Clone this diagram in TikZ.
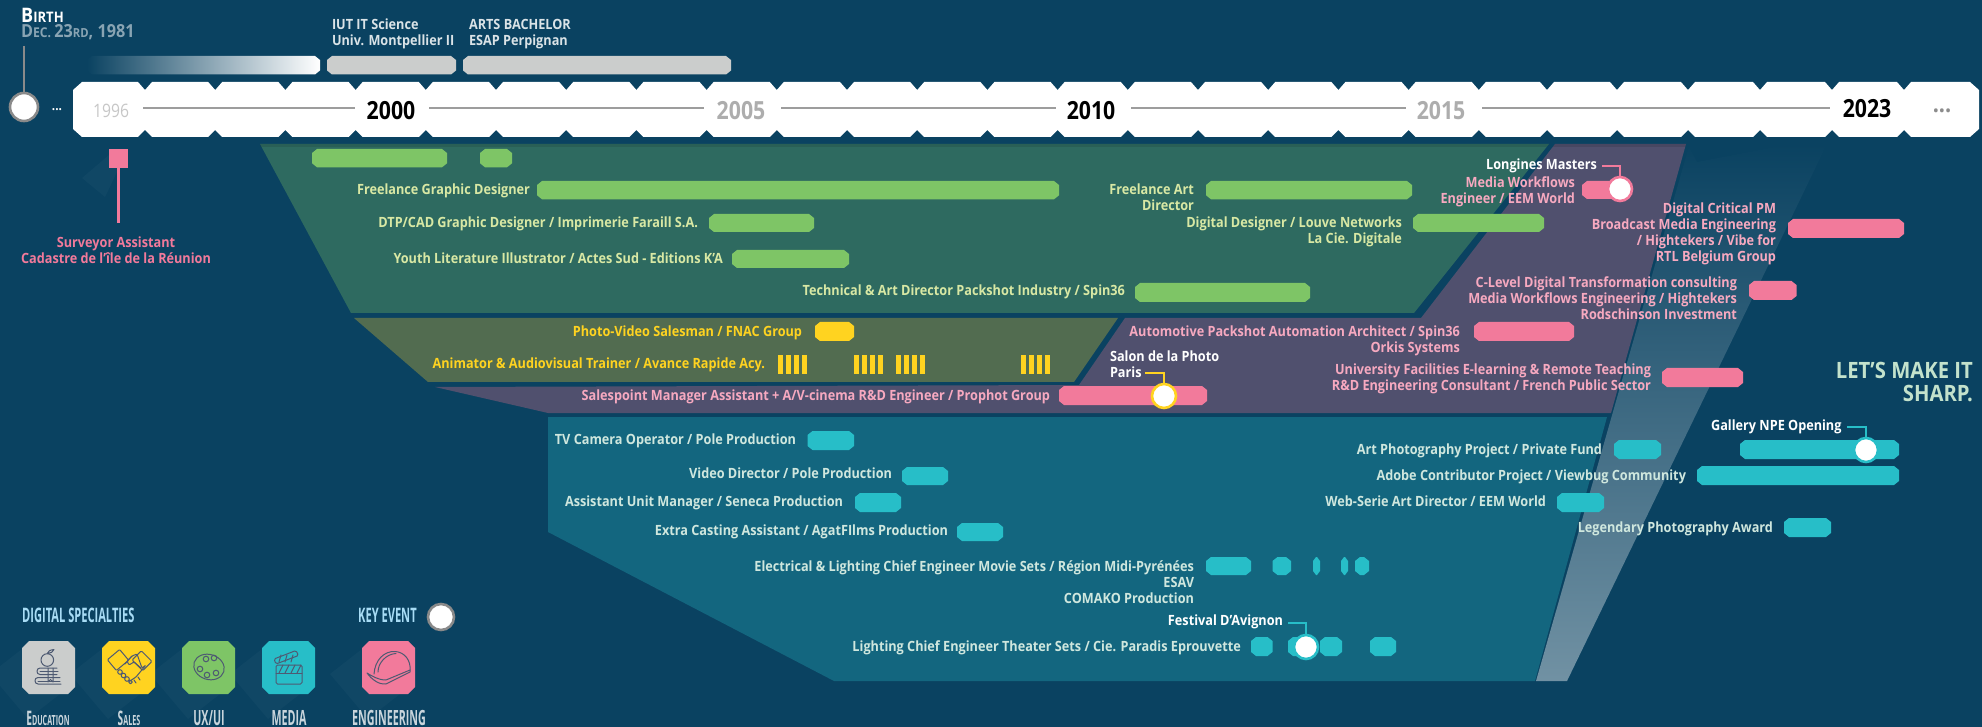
\documentclass[tikz,border=0pt]{standalone}
\usepackage{fontspec}
\setmainfont[FakeStretch=0.9]{Open Sans}
\newfontfamily\yearfont[FakeStretch=0.85]{Open Sans}
\newfontfamily\condfont[FakeStretch=0.555]{Open Sans}
\newfontfamily\condlab[FakeStretch=0.51]{Open Sans}
\definecolor{bgc}{HTML}{0A4261}
\definecolor{pgreen}{HTML}{2E6A60}
\definecolor{polive}{HTML}{526C50}
\definecolor{ppurple}{HTML}{50506E}
\definecolor{pteal}{HTML}{13667F}
\definecolor{cgreen}{HTML}{7EC566}
\definecolor{cyellow}{HTML}{FFD320}
\definecolor{cpink}{HTML}{F27A9B}
\definecolor{cteal}{HTML}{27BEC8}
\definecolor{cgray}{HTML}{CBCDCC}
\definecolor{tgreen}{HTML}{D8E8A4}
\definecolor{tpink}{HTML}{F7A9C0}
\definecolor{tteal}{HTML}{CFE7DE}
\definecolor{ring}{HTML}{8A8A8A}
\definecolor{iconc}{HTML}{4E5A72}
\definecolor{lineg}{HTML}{9D9D9D}
\definecolor{legc}{HTML}{A8DCF5}
\tikzset{
  gbar/.style={fill=cgreen},
  ybar/.style={fill=cyellow},
  pbar/.style={fill=cpink},
  tbar/.style={fill=cteal},
  dbar/.style={fill=cgray},
  fadebar/.style={left color=bgc,right color=white},
  lab/.style={inner sep=0pt,outer sep=0pt,align=right,anchor=north east,font=\fontsize{14.1}{16}\selectfont\bfseries},
  labl/.style={lab,align=left,anchor=north west},
  year/.style={inner sep=0pt,font=\yearfont\fontsize{25}{25}\selectfont\bfseries},
  evt/.style={circle,fill=white,draw=#1,line width=2.6pt,minimum size=24pt,inner sep=0pt},
  leader/.style={line width=2pt},
  gline/.style={lineg,line width=2.6pt},
  ic/.style={draw=iconc,line width=1pt,line join=round,line cap=round},
  sh/.style={fill=white,fill opacity=0.028,draw=none},
  cond/.style={inner sep=0pt,font=\condfont\bfseries\fontsize{20}{20}\selectfont},
  condl/.style={inner sep=0pt,font=\condlab\bfseries\fontsize{21}{21}\selectfont},
}
% chamfered bar: name, style, x1, x2, y1, y2
\newcommand\tb[6]{\pgfmathsetmacro\cxx{min(5,(#4-#3)/2-0.5)}%
  \path[#2] ({#3},{#5+4}) -- ({#3+\cxx},#5) -- ({#4-\cxx},#5) -- ({#4},{#5+4}) -- ({#4},{#6-4}) -- ({#4-\cxx},#6) -- ({#3+\cxx},#6) -- ({#3},{#6-4}) -- cycle;
  \coordinate (#1) at ({(#3+#4)/2},{(#5+#6)/2});}
\newcommand\lb[5]{\node[lab,text=#2] (#1) at (#3,{#4-6.7}) {\strut #5};}
\newcommand\lbl[5]{\node[labl,text=#2] (#1) at (#3,{#4-6.7}) {\strut #5};}
\newcommand\octa[4]{\fill[#2] ({#3},{#4+7}) -- ({#3+7},#4) -- ({#3+46},#4) -- ({#3+53},{#4+7}) -- ({#3+53},{#4+46}) -- ({#3+46},{#4+53}) -- ({#3+7},{#4+53}) -- ({#3},{#4+46}) -- cycle;
  \coordinate (#1) at ({#3+26.5},{#4+26.5});}
\newcommand\longsh[2]{\fill[sh] (#1,{#2+8}) -- ({#1-32},{#2+33}) -- ({#1+6},{#2+78}) -- ({#1+38},{#2+53}) -- cycle;}
\begin{document}
\begin{tikzpicture}[x=1pt,y=-1pt]
\useasboundingbox (0,0) rectangle (1982,727);
\fill[bgc] (0,0) rectangle (1982,727);

% sweep
\shade[shading angle=-22,bottom color=white!42!bgc,middle color=white!20!bgc,top color=bgc]
  (1689,146) -- (1697,162) -- (1790,144) -- (1827,144) -- (1567,681) -- (1536,681) -- cycle;

% panels
\fill[pgreen] (260,144) -- (1549,144) -- (1414,313) -- (351,313) -- cycle;
\fill[polive] (354,318) -- (1118,318) -- (1074,382) -- (428,382) -- cycle;
\fill[ppurple] (1555,144) -- (1686,144) -- (1611,413) -- (548,413) -- (435,387) -- (1079,385) -- (1125,318) -- (1421,318) -- cycle;
\fill[pteal] (548,417) -- (1607,417) -- (1535,681) -- (834,681) -- (548,532) -- cycle;
% notch shadow along the top of the panels
\begin{scope}
\clip (260,144) -- (1549,144) -- (1520,180) -- (270,180) -- cycle (1555,144) -- (1686,144) -- (1676,180) -- (1527,180) -- cycle;
\fill[black,fill opacity=0.1] (260,144) rectangle (1686,147.5);
\end{scope}

% timeline band
\fill[white] (73,90) -- (82,82)
  \foreach \x in {145,215.2,285.4,355.6,425.8,496,566.2,636.4,706.6,776.8,847,917.2,987.4,1057.6,1127.8,1198,1268.2,1338.4,1408.6,1478.8,1547,1617,1688,1760,1832,1904} { -- ({\x-7},82) -- (\x,90) -- ({\x+7},82) }
  -- (1970,82) -- (1979,90) -- (1979,129) -- (1970,137)
  \foreach \x in {1904,1832,1760,1688,1617,1547,1478.8,1408.6,1338.4,1268.2,1198,1127.8,1057.6,987.4,917.2,847,776.8,706.6,636.4,566.2,496,425.8,355.6,285.4,215.2,145} { -- ({\x+7},137) -- (\x,130) -- ({\x-7},137) }
  -- (82,137) -- (73,129) -- cycle;
\foreach \a/\b in {143/355,429/704,781/1056,1131/1406,1482/1830} \draw[gline] (\a,108) -- (\b,108);
\node[inner sep=0pt,text=white!78!black,font=\yearfont\fontsize{18.5}{18.5}\selectfont] (y96) at (111,111) {1996};
\node[year,text=black] (y00) at (391,110.5) {2000};
\node[year,text=black!32] (y05) at (741,111) {2005};
\node[year,text=black] (y10) at (1091,111) {2010};
\node[year,text=black!32] (y15) at (1441,111) {2015};
\node[year,text=black] (y23) at (1867,108.5) {2023};
\node[inner sep=0pt,text=black!45,font=\fontsize{24}{24}\selectfont\bfseries] (ymore) at (1942,111) {...};
\node[inner sep=0pt,text=white,font=\fontsize{13}{13}\selectfont\bfseries] (ystart) at (57,110) {...};

% birth
\node[evt=ring,minimum size=28pt] (birth) at (24,107) {};
\coordinate (birthtop) at (24,46);
\draw[ring,line width=2.5pt] (birthtop) -- (birth.north);
\node[inner sep=0pt,anchor=base west,text=white,font=\bfseries] (birthlab) at (21,23) {\fontsize{20}{20}\selectfont B\fontsize{14.5}{14.5}\selectfont IRTH};
\node[inner sep=0pt,anchor=base west,text=white!52!bgc,font=\bfseries] (datelab) at (21,38) {\fontsize{18}{18}\selectfont D\fontsize{13.5}{13.5}\selectfont EC. \fontsize{18}{18}\selectfont 23\fontsize{12.5}{12.5}\selectfont RD\fontsize{18}{18}\selectfont, 1981};

% degrees
\tb{d0}{fadebar}{87}{320}{56}{74.5}
\tb{d1}{dbar}{327}{456}{56}{74.5}
\tb{d2}{dbar}{463}{731}{56}{74.5}
\lbl{iut}{white!85!bgc}{332}{25}{IUT IT Science\\Univ. Montpellier II}
\lbl{arts}{white!85!bgc}{469}{25}{ARTS BACHELOR\\ESAP Perpignan}

% surveyor
\fill[sh] (109,155) -- (82,178) -- (105,197) -- (118,170) -- cycle;
\node[fill=cpink,inner sep=0pt,minimum width=19pt,minimum height=19pt] (surv) at (118.5,158.5) {};
\coordinate (survend) at (118.5,223);
\draw[cpink,line width=3pt] (surv.south) -- (survend);
\node[lab,align=center,anchor=north,text=cpink] (survlab) at (116,236.3) {\strut Surveyor Assistant\\Cadastre de l'île de la Réunion};

% green
\tb{g1}{gbar}{312}{447}{149}{167.3}
\tb{g2}{gbar}{480}{512}{149}{167.3}
\tb{g3}{gbar}{537}{1059}{181}{199.3}
\tb{g4}{gbar}{1206}{1412}{181}{199.3}
\tb{g5}{gbar}{709}{814}{214}{232}
\tb{g6}{gbar}{1413}{1544}{214}{232}
\tb{g7}{gbar}{732}{849}{250}{268}
\tb{g8}{gbar}{1135}{1310}{283}{302}
\lb{t1}{tgreen}{530}{190}{Freelance Graphic Designer}
\lb{t2}{tgreen}{1194}{190}{Freelance Art\\Director}
\lb{t3}{tgreen}{698}{223}{DTP/CAD Graphic Designer / Imprimerie Faraill S.A.}
\lb{t4}{tgreen}{1402}{223}{Digital Designer / Louve Networks\\La Cie. Digitale}
\lb{t5}{tgreen}{723}{259}{Youth Literature Illustrator / Actes Sud - Editions K'A}
\lb{t6}{tgreen}{1125}{291}{Technical \& Art Director Packshot Industry / Spin36}

% olive
\tb{y1}{ybar}{815}{854}{322}{341}
\lb{t7}{cyellow}{802}{332}{Photo-Video Salesman / FNAC Group}
\lb{t8}{cyellow}{765}{364}{Animator \& Audiovisual Trainer / Avance Rapide Acy.}
\foreach \g in {778,854,896,1021} \foreach \k in {0,1,2,3} \fill[cyellow] ({\g+\k*8},355) rectangle ({\g+\k*8+5},374);

% pink
\tb{p1}{pbar}{1059}{1207}{386}{405}
\lb{t9}{tpink}{1050}{396}{Salespoint Manager Assistant + A/V-cinema R\&D Engineer / Prophot Group}
\node[evt=cyellow] (e1) at (1164,396) {};
\lbl{t10}{white}{1110}{357}{Salon de la Photo\\Paris}
\coordinate (e1a) at (1145,373);
\draw[leader,cyellow] (e1a) -| (e1.north);

\tb{p2}{pbar}{1582}{1625}{181}{199}
\node[evt=cpink] (e2) at (1620,189) {};
\lb{t11}{white}{1597}{165}{Longines Masters}
\coordinate (e2a) at (1602,166);
\draw[leader,cpink] (e2a) -| (e2.north);
\lb{t12}{tpink}{1575}{183}{Media Workflows\\Engineer / EEM World}
\tb{p3}{pbar}{1788}{1904}{219}{238}
\lb{t13}{tpink}{1776}{209}{Digital Critical PM\\Broadcast Media Engineering\\/ Hightekers / Vibe for\\RTL Belgium Group}
\tb{p4}{pbar}{1749}{1796.5}{281}{300}
\lb{t14}{tpink}{1737}{283}{C-Level Digital Transformation consulting\\Media Workflows Engineering / Hightekers\\Rodschinson Investment}
\tb{p5}{pbar}{1474}{1574}{322}{341}
\lb{t15}{tpink}{1460}{332}{Automotive Packshot Automation Architect / Spin36\\Orkis Systems}
\tb{p6}{pbar}{1662}{1743}{368}{387}
\lb{t16}{tpink}{1651}{370}{University Facilities E-learning \& Remote Teaching\\R\&D Engineering Consultant / French Public Sector}

\node[inner sep=0pt,anchor=north east,align=right,text=tteal!85!cgreen,font=\fontsize{22.5}{24}\selectfont\bfseries] (sharp) at (1973,361) {\strut LET'S MAKE IT\\SHARP.};

% teal right
\tb{c1}{tbar}{1740}{1899}{440}{459}
\node[evt=cteal] (e3) at (1866,450) {};
\lb{t17}{white}{1841.5}{426}{Gallery NPE Opening}
\coordinate (e3a) at (1847,427);
\draw[leader,cteal] (e3a) -| (e3.north);
\tb{c2}{tbar}{1697}{1899}{466}{485}
\lb{t18}{tteal}{1686}{476}{Adobe Contributor Project / Viewbug Community}
\tb{c3}{tbar}{1614}{1661}{440}{459}
\lb{t19}{tteal}{1602}{450}{Art Photography Project / Private Fund}
\tb{c4}{tbar}{1557}{1604}{493}{512}
\lb{t20}{tteal}{1546}{502}{Web-Serie Art Director / EEM World}
\tb{c5}{tbar}{1784}{1831}{518}{537}
\lb{t21}{tteal}{1773}{528}{Legendary Photography Award}

% teal left
\tb{c6}{tbar}{807.5}{854}{431}{450}
\lb{t22}{tteal}{796}{440}{TV Camera Operator / Pole Production}
\tb{c7}{tbar}{902}{948}{467}{485}
\lb{t23}{tteal}{892}{474}{Video Director / Pole Production}
\tb{c8}{tbar}{855}{901}{493}{512}
\lb{t24}{tteal}{843}{502}{Assistant Unit Manager / Seneca Production}
\tb{c9}{tbar}{957}{1003}{523}{541}
\lb{t25}{tteal}{948}{531}{Extra Casting Assistant / AgatFIlms Production}
\tb{c10}{tbar}{1206}{1251}{557}{575}
\tb{c11}{tbar}{1272.5}{1291}{557}{575}
\tb{c12}{tbar}{1313}{1320}{557}{575}
\tb{c13}{tbar}{1341}{1348}{557}{575}
\tb{c14}{tbar}{1355}{1369}{557}{575}
\lb{t26}{tteal}{1194}{567}{Electrical \& Lighting Chief Engineer Movie Sets / Région Midi-Pyrénées\\ESAV\\COMAKO Production}
\tb{c15}{tbar}{1251}{1272.5}{637}{656}
\tb{c16}{tbar}{1288}{1310}{637}{656}
\tb{c17}{tbar}{1320}{1342}{637}{656}
\tb{c18}{tbar}{1370}{1396}{637}{656}
\node[evt=cteal] (e4) at (1306,647) {};
\lb{t27}{white}{1283}{621}{Festival D'Avignon}
\coordinate (e4a) at (1288,623);
\draw[leader,cteal] (e4a) -| (e4.north);
\lb{t28}{tteal}{1241}{647}{Lighting Chief Engineer Theater Sets / Cie. Paradis Eprouvette}

% legend
\longsh{22}{641}\longsh{102}{641}\longsh{182}{641}\longsh{262}{641}\longsh{362}{641}
\node[cond,anchor=west,text=legc] (legd) at (22,615) {DIGITAL SPECIALTIES};
\node[cond,anchor=west,text=legc] (legk) at (358,615) {KEY EVENT};
\node[evt=ring,minimum size=26pt] (legcirc) at (441,617) {};
\octa{i1}{cgray}{22}{641}
\octa{i2}{cyellow}{102}{641}
\octa{i3}{cgreen}{182}{641}
\octa{i4}{cteal}{262}{641}
\octa{i5}{cpink}{362}{641}
\node[condl,text=white!78!bgc] (l1) at (48,718) {\fontsize{20}{20}\selectfont E\fontsize{14}{14}\selectfont DUCATION};
\node[condl,text=white!78!bgc] (l2) at (129,718) {\fontsize{20}{20}\selectfont S\fontsize{14}{14}\selectfont ALES};
\node[condl,text=white!78!bgc] (l3) at (209,718) {UX/UI};
\node[condl,text=white!78!bgc] (l4) at (289,718) {MEDIA};
\node[condl,text=white!78!bgc] (l5) at (389,718) {ENGINEERING};

% icon: apple + books
\draw[ic] (47.3,660) circle (6.3);
\draw[ic] (47.3,653.5) .. controls (48,651) and (50,650) .. (54,649.5) .. controls (53,652) and (51,653) .. (48,653.5);
\draw[ic] (57,668) -- (40,668) .. controls (36,668) and (36,674.5) .. (40,674.5) -- (57,674.5);
\draw[ic] (40,671) -- (58,671);
\draw[ic] (60,677.5) -- (38,677.5) .. controls (34,677.5) and (34,684) .. (38,684) -- (61,684);
\draw[ic] (38,681) -- (60,681);
\draw[ic] (48,668) -- (48,682) -- (50.5,679.5) -- (53,682) -- (53,668);
% icon: handshake
\draw[ic,rounded corners=1pt,rotate around={40:(118,660)}] (110,653) rectangle (126,667);
\draw[ic,rounded corners=1pt,rotate around={-45:(142,660)}] (135,654) rectangle (150,667);
\draw[ic,rounded corners=1pt] (125,664) -- (132,656) -- (137,654) -- (142,668) -- (146,665) -- (136,677) -- (130,681);
\draw[ic,rounded corners=1pt] (132,656) -- (127,661) -- (129,665) -- (134,662) -- (141,668);
\draw[ic] (120,672) circle (2.3) (123.5,675.5) circle (2.3) (127,679) circle (2.3) (130.5,682) circle (1.8);
\draw[ic] (134,680) -- (136,683) (138,677) -- (140,680);
% icon: palette
\draw[ic,rotate around={-18:(209,667)}] (209,667) ellipse (15.5 and 12.5);
\foreach \q/\w in {206/659,214/658,200/669,207/675,216/673} \draw[ic] (\q,\w) circle (2.8);
% icon: clapper
\draw[ic,rounded corners=1.5pt] (276,665) rectangle (302,684);
\draw[ic] (276,673) -- (302,673);
\foreach \s in {279,285,291,297} \draw[ic] (\s,673) -- (\s+4,665);
\draw[ic,rounded corners=1.5pt] (274,659) -- (296,650.5) -- (298.5,655.5) -- (276,664) -- cycle;
\foreach \s in {279,285,291} \draw[ic] (\s,662) -- (\s+2,655);
% icon: hard hat
\draw[ic] (374,674) .. controls (375,660) and (384,651) .. (395,651.5) .. controls (405,652) and (411,661) .. (410,670);
\draw[ic] (378,672) .. controls (378,663) and (386,654) .. (396,653.5);
\draw[ic] (367,673) .. controls (372,680) and (380,685) .. (386,684) -- (410,672) -- (410,670) -- (386,680) .. controls (378,680) and (372,676) .. (367,673) -- cycle;
\end{tikzpicture}
\end{document}
